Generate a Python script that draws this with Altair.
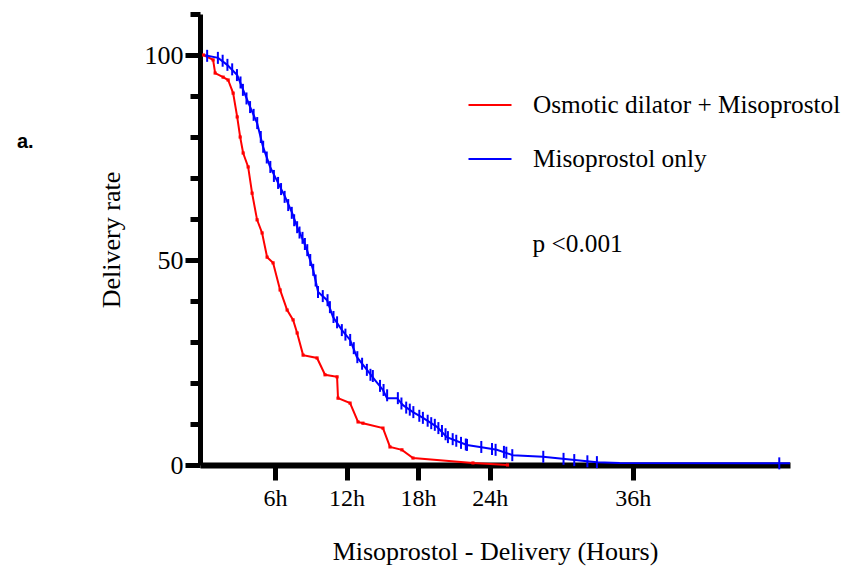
import altair as alt
import pandas as pd

groups = ["Osmotic dilator + Misoprostol", "Misoprostol only"]
colors = ["#ff0000", "#0000ff"]

# Osmotic dilator + Misoprostol (hours, delivery rate)
red_x = [0, 0.8, 0.97, 1.64, 2.06, 2.48, 2.82, 3.07, 3.32, 3.74, 4.07, 4.49, 4.91,
         5.33, 5.83, 6.42, 7.01, 7.51, 7.85, 8.35, 9.52, 10.19, 11.2, 11.28, 12.29,
         12.96, 13.37, 15.05, 15.64, 16.64, 17.57, 22.6, 25.5]
red_y = [100, 98.8, 95.6, 94.6, 93.9, 90.7, 84.9, 80.0, 76.1, 72.7, 66.3, 59.8, 56.6,
         50.7, 49.3, 42.7, 37.8, 35.4, 32.2, 26.8, 26.1, 22.0, 21.5, 16.3, 15.1,
         10.5, 10.2, 9.0, 4.4, 3.7, 1.7, 0.5, 0.0]

# Misoprostol only
blue_x = [0, 1.22, 1.98, 2.82, 3.32, 3.91, 4.49, 4.99, 5.58, 6.25, 6.84, 7.43, 7.85,
          8.27, 8.68, 9.19, 9.61, 10.36, 10.86, 11.61, 12.29, 12.87, 13.71, 14.38,
          15.05, 15.39, 16.23, 16.73, 17.57, 18.41, 19.58, 20.41, 22.09, 23.18, 24.6,
          25.95, 28.47, 33.0, 34.9, 49.2]
blue_y = [100, 99.3, 97.6, 95.1, 91.5, 87.3, 83.4, 77.6, 72.7, 68.8, 65.4, 61.5, 58.0,
          55.4, 52.4, 47.6, 42.2, 40.2, 36.1, 32.9, 30.5, 26.3, 23.2, 20.7,
          18.3, 16.3, 16.3, 14.6, 12.9, 11.5, 9.3, 6.8, 4.9, 4.4, 3.7,
          2.4, 2.0, 0.7, 0.5, 0.4]

# censored observations (Misoprostol only)
cens_x = [0.3, 1.2, 1.6, 2.0, 2.4, 2.8, 3.1, 3.3, 3.6, 3.9, 4.2, 4.5, 4.8, 5.0, 5.3,
          5.6, 5.9, 6.25, 6.5, 6.8, 7.1, 7.4, 7.6, 7.85, 8.05, 8.3, 8.5, 8.7, 8.95,
          9.2, 9.4, 9.6, 10.0, 10.4, 10.6, 10.9, 11.2, 11.6, 11.9, 12.3, 12.6, 12.9,
          13.3, 13.7, 14.0, 14.2, 14.8, 15.1, 15.4, 16.3, 16.6, 17.0, 17.3, 17.6, 18.1,
          18.4, 18.8, 19.1, 19.4, 19.7, 20.0, 20.3, 20.5, 20.9, 21.2, 21.6, 22.0, 22.1,
          23.3, 24.2, 24.5, 25.2, 25.4, 25.9, 28.5, 30.2, 31.1, 32.2, 33.0, 48.3]
cens_y = [99.8, 99.3, 98.6, 97.6, 96.5, 95.1, 93.3, 91.5, 89.4, 87.3, 85.4, 83.4, 80.0,
          77.6, 75.0, 72.7, 70.5, 68.8, 67.3, 65.4, 63.4, 61.5, 59.7, 58.0, 56.7, 55.4,
          53.9, 52.4, 50.0, 47.6, 45.0, 42.2, 41.2, 40.2, 38.5, 36.1, 34.8, 32.9, 31.8,
          30.5, 28.5, 26.3, 24.7, 23.2, 22.0, 21.7, 19.3, 18.3, 17.0, 16.3, 15.0, 14.0,
          13.5, 12.9, 12.0, 11.5, 10.8, 10.2, 9.8, 9.0, 8.3, 7.5, 6.8, 6.3, 5.9, 5.4,
          5.0, 4.9, 4.4, 3.9, 3.7, 3.2, 3.0, 2.4, 2.0, 1.5, 1.2, 0.9, 0.7, 0.4]

x_ticks = [6, 12, 18, 24, 36]
y_ticks = [0, 10, 20, 30, 40, 50, 60, 70, 80, 90, 100, 110]

p_text = "p <0.001"
p_x, p_y = 27.6, 52
panel_label = "a."

df = pd.concat([
    pd.DataFrame({"t": red_x, "s": red_y, "g": groups[0]}),
    pd.DataFrame({"t": blue_x, "s": blue_y, "g": groups[1]}),
])
df_red = pd.DataFrame({"t": red_x, "s": red_y})
df_cens = pd.DataFrame({"t": cens_x, "s": cens_y})
df_p = pd.DataFrame({"t": [p_x], "s": [p_y], "label": [p_text]})
df_a = pd.DataFrame({"label": [panel_label]})

SERIF = "Liberation Serif"
xscale = alt.Scale(domain=[-0.3, 49.2], nice=False, zero=False)
yscale = alt.Scale(domain=[0, 110], nice=False)

x_axis = alt.Axis(
    values=x_ticks, labelExpr="datum.value + 'h'", title="Misoprostol - Delivery (Hours)",
    grid=False, domainColor="black", domainWidth=6, tickColor="black", tickWidth=5,
    tickSize=15, labelFont=SERIF, labelFontSize=24, labelColor="black", labelPadding=6,
    titleFont=SERIF, titleFontSize=26, titleFontWeight="normal", titleColor="black",
    titleBaseline="alphabetic", titleY=94, titleX=295,
)
y_axis = alt.Axis(
    values=y_ticks, labelExpr="datum.value % 50 === 0 ? datum.value : ''",
    title="Delivery rate", grid=False, domainColor="black", domainWidth=5,
    tickColor="black", tickWidth=5,
    tickSize={"condition": {"test": "datum.value % 50 === 0", "value": 15}, "value": 10},
    labelFont=SERIF, labelFontSize=26, labelColor="black", labelPadding=2,
    titleFont=SERIF, titleFontSize=26, titleFontWeight="normal", titleColor="black",
    titleBaseline="alphabetic", titleX=-81, titleY=225.5, titleAngle=-90,
)

lines = alt.Chart(df).mark_line(strokeWidth=2).encode(
    x=alt.X("t:Q", scale=xscale, axis=x_axis),
    y=alt.Y("s:Q", scale=yscale, axis=y_axis),
    color=alt.Color("g:N", scale=alt.Scale(domain=groups, range=colors),
                    legend=alt.Legend(orient="none", legendX=267, legendY=68, title=None,
                                      symbolType="stroke", symbolSize=1850,
                                      symbolStrokeWidth=2, labelFont=SERIF,
                                      labelFontSize=25.3, labelColor="black",
                                      labelLimit=0, labelOffset=20, rowPadding=17)),
    order="t:Q",
)

red_pts = alt.Chart(df_red).mark_square(size=10, color=colors[0], opacity=1).encode(
    x="t:Q", y="s:Q")

cens = alt.Chart(df_cens).mark_tick(orient="vertical", size=12, thickness=2,
                                    color=colors[1], opacity=1).encode(x="t:Q", y="s:Q")

ptxt = alt.Chart(df_p).mark_text(font=SERIF, fontSize=25.3, align="left",
                                 baseline="alphabetic", color="black").encode(
    x="t:Q", y="s:Q", text="label:N")

atxt = alt.Chart(df_a).mark_text(font="Liberation Sans", fontSize=20, fontWeight="bold",
                                 align="left", baseline="alphabetic", color="black").encode(
    x=alt.value(-183), y=alt.value(134), text="label:N")

chart = alt.layer(lines, red_pts, cens, ptxt, atxt).properties(
    width=590, height=451,
    autosize=alt.AutoSizeParams(type="none"),
    padding={"left": 192, "top": 6, "right": 54, "bottom": 101},
).configure_view(stroke=None)

chart.save("out.html", embed_options={"renderer": "svg", "actions": False})
